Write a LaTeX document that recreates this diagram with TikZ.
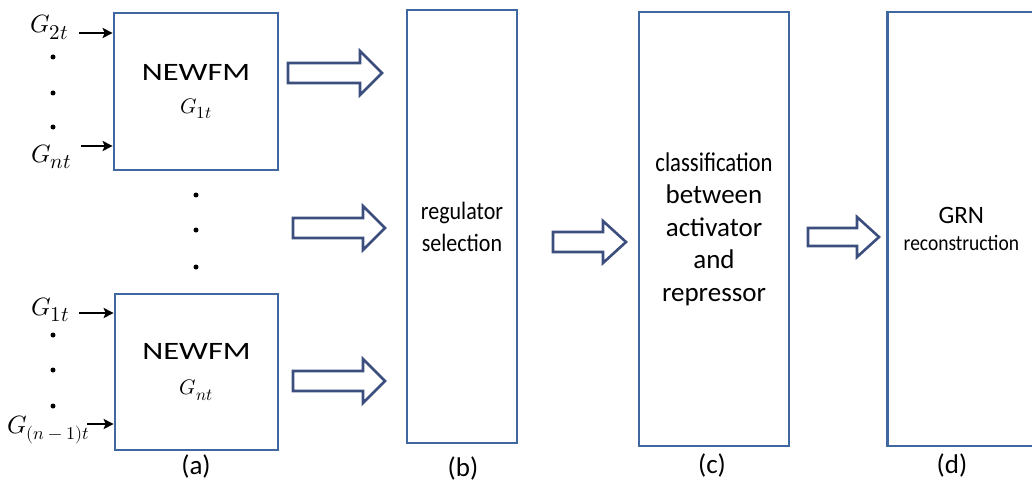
\documentclass[tikz,border=0pt]{standalone}
\usepackage{fontspec}
\usepackage{unicode-math}
\setmainfont{Carlito}
\setmathfont{latinmodern-math.otf}
\usetikzlibrary{arrows.meta}
\definecolor{boxblue}{HTML}{3F67A0}
\definecolor{arrblue}{HTML}{3B4E7E}
\tikzset{
  stage/.style={draw=boxblue, line width=2.7pt, fill=white, inner sep=0pt, align=center},
  barr/.style={draw=arrblue, line width=2.6pt, fill=white, line join=miter},
  inarr/.style={-{Stealth[length=10pt,width=10pt,inset=2pt]}, line width=2.2pt, black},
  glabel/.style={inner sep=0pt, anchor=base west, font=\fontsize{24}{26}\selectfont},
  sublabel/.style={inner sep=0pt, font=\fontsize{27}{30}\selectfont},
  dotmark/.style={circle, fill=black, inner sep=0pt, minimum size=5pt}
}
% hollow block arrow: tail x, tip x, centre y, shaft half, head half, head length
\newcommand\blockarr[6]{%
  \draw[barr] (#1,#3-#4) -- (#2-#6,#3-#4) -- (#2-#6,#3-#5) -- (#2,#3) -- (#2-#6,#3+#5) -- (#2-#6,#3+#4) -- (#1,#3+#4) -- cycle;}
\newcommand\newfm{\scalebox{1.3}[1]{NEWFM}}
% G with a large subscript: main size, sub size, subscript
\newcommand\Gsub[3]{{\fontsize{#1}{#1}\selectfont$G_{\hbox{\fontsize{#2}{#2}\selectfont$#3$}}$}}
\begin{document}
\begin{tikzpicture}[x=1pt,y=-1pt]
\useasboundingbox (0,0) rectangle (1032,492);
\begin{scope}
\clip (0,0) rectangle (1032,492);
% stages
\node[stage, minimum width=164pt, minimum height=157pt, font=\fontsize{25}{33}\selectfont] (a1) at (196,91.5) {\newfm\\\Gsub{21}{17}{1t}};
\node[stage, minimum width=163pt, minimum height=156pt, font=\fontsize{25}{35}\selectfont] (a2) at (196.5,372) {\newfm\\\Gsub{21}{17}{nt}};
\node[stage, minimum width=110pt, minimum height=433pt, font=\fontsize{25}{32}\selectfont] (b) at (462,226.5) {\scalebox{0.88}[1]{regulator}\\\scalebox{0.88}[1]{selection}};
\node[stage, minimum width=150pt, minimum height=434pt, font=\fontsize{27}{32.5}\selectfont] (c) at (714,229) {\scalebox{0.84}[1]{classification}\\between\\activator\\and\\repressor};
\node[stage, minimum width=148pt, minimum height=434pt, anchor=west] (d) at (886,229) {\fontsize{25}{28}\selectfont GRN\\[10pt]\fontsize{22}{24}\selectfont\scalebox{0.885}[1]{reconstruction}};
\end{scope}
% captions
\node[sublabel] (la) at (196,466) {(a)};
\node[sublabel] (lb) at (463,468) {(b)};
\node[sublabel] (lc) at (712,465) {(c)};
\node[sublabel] (ld) at (952,465) {(d)};
% block arrows
\blockarr{288}{382}{73}{10}{22}{22}
\blockarr{293}{385}{228}{10}{22}{22}
\blockarr{293}{385}{381}{10}{22}{22}
\blockarr{553}{626}{242}{10}{21}{23}
\blockarr{808}{879}{237}{9}{20}{22}
% inputs top box
\node[glabel] (g2t) at (30,33) {\Gsub{25}{21}{2t}};
\node[glabel] (gnt) at (31,162) {\Gsub{25}{21}{nt}};
\coordinate (i1) at (79,33);
\coordinate (i2) at (81,146);
\draw[inarr] (i1) -- (a1.west |- i1);
\draw[inarr] (i2) -- (a1.west |- i2);
\node[dotmark] (d1) at (53,57) {};
\node[dotmark] (d2) at (53,93) {};
\node[dotmark] (d3) at (53,127) {};
% middle dots
\node[dotmark] (m1) at (196,195) {};
\node[dotmark] (m2) at (196,230) {};
\node[dotmark] (m3) at (196,267) {};
% inputs bottom box
\node[glabel] (g1t) at (31,315) {\Gsub{25}{21}{1t}};
\node[glabel] (gn1t) at (7,433) {\Gsub{25}{18}{(n-1)t}};
\coordinate (i3) at (79,313);
\coordinate (i4) at (87,424);
\draw[inarr] (i3) -- (a2.west |- i3);
\draw[inarr] (i4) -- (a2.west |- i4);
\node[dotmark] (d4) at (53,335) {};
\node[dotmark] (d5) at (53,370) {};
\node[dotmark] (d6) at (53,406) {};
\end{tikzpicture}
\end{document}
